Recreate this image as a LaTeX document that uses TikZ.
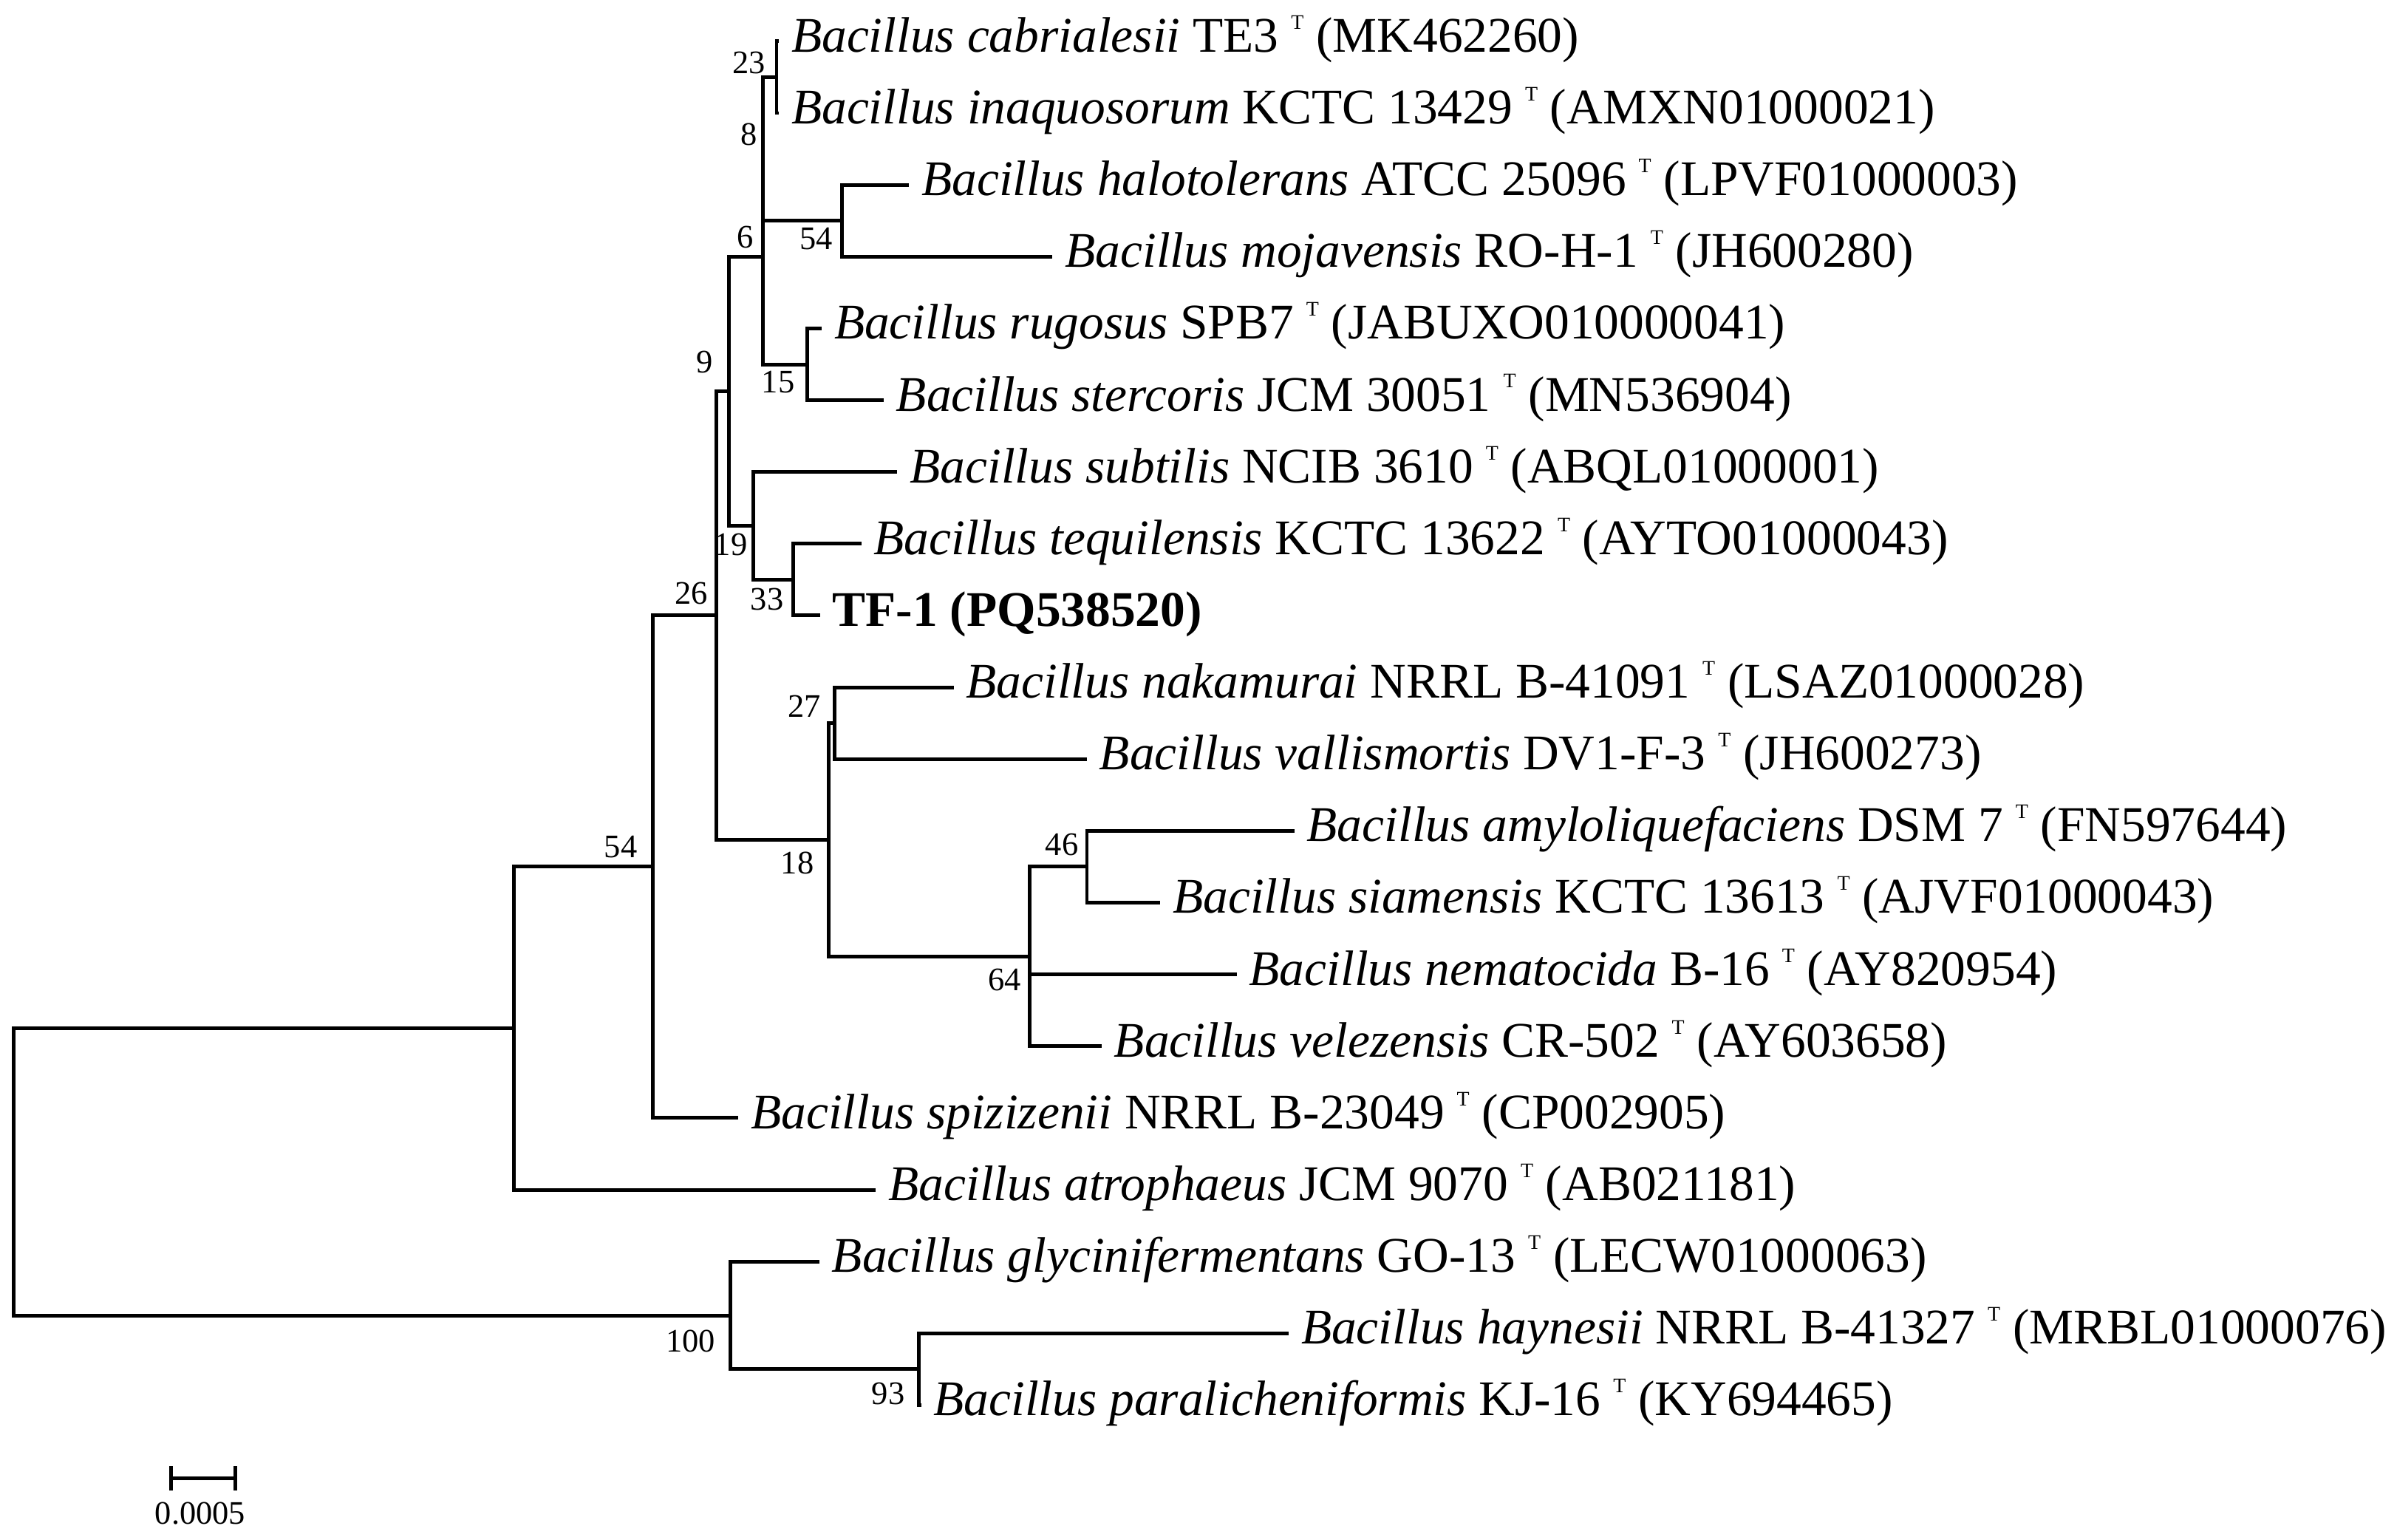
\documentclass[tikz,border=0pt]{standalone}
\usepackage{fontspec}
\setmainfont{Liberation Serif}
\usepackage{tikz}
\usetikzlibrary{positioning,calc}
\newcommand{\tsup}{\raisebox{15pt}{\fontsize{13.5}{13.5}\selectfont T}}

\begin{document}
\begin{tikzpicture}[x=1pt,y=-1pt,
  leaf/.style={anchor=west,inner xsep=8pt,inner ysep=0pt,
               font=\fontsize{32.6}{38}\selectfont,text height=22.8pt,text depth=8.8pt},
  bs/.style={anchor=east,inner sep=0pt,font=\fontsize{21.5}{24}\selectfont},
  br/.style={line width=2.4pt,draw=black}]

  \useasboundingbox (0,0) rectangle (1568,1007);

  \coordinate (root) at (9,766.5);
  \coordinate (nA)   at (336,672.6);
  \coordinate (n54b) at (427,566.9);
  \coordinate (n26)  at (468.5,402.6);
  \coordinate (n9)   at (477,255.9);
  \coordinate (n6)   at (499,167.85);
  \coordinate (n8)   at (499,97.4);
  \coordinate (n23)  at (508,50.5);
  \coordinate (n54a) at (550.6,144.4);
  \coordinate (n15)  at (528,238.3);
  \coordinate (n19)  at (493,343.9);
  \coordinate (n33)  at (518.8,379.1);
  \coordinate (n18)  at (542.2,549.3);
  \coordinate (n27)  at (546,473);
  \coordinate (n64)  at (673.6,625.6);
  \coordinate (n46)  at (711,566.9);
  \coordinate (n100) at (477.7,860.4);
  \coordinate (n93)  at (601,895.6);

  \node[leaf] (cab)  at (509.5,27)    {\textit{Bacillus cabrialesii} TE3 \tsup{} (MK462260)};
  \node[leaf] (inaq) at (509.5,73.95) {\textit{Bacillus inaquosorum} KCTC 13429 \tsup{} (AMXN01000021)};
  \node[leaf] (halo) at (594.6,120.9) {\textit{Bacillus halotolerans} ATCC 25096 \tsup{} (LPVF01000003)};
  \node[leaf] (moj)  at (688.5,167.85) {\textit{Bacillus mojavensis} RO-H-1 \tsup{} (JH600280)};
  \node[leaf] (rug)  at (537.5,214.8) {\textit{Bacillus rugosus} SPB7 \tsup{} (JABUXO010000041)};
  \node[leaf] (ster) at (578,261.75)  {\textit{Bacillus stercoris} JCM 30051 \tsup{} (MN536904)};
  \node[leaf] (subt) at (587,308.7)   {\textit{Bacillus subtilis} NCIB 3610 \tsup{} (ABQL01000001)};
  \node[leaf] (teq)  at (563.4,355.65) {\textit{Bacillus tequilensis} KCTC 13622 \tsup{} (AYTO01000043)};
  \node[leaf] (tf)   at (536.4,402.6) {\textbf{TF-1 (PQ538520)}};
  \node[leaf] (nak)  at (623.8,449.55) {\textit{Bacillus nakamurai} NRRL B-41091 \tsup{} (LSAZ01000028)};
  \node[leaf] (vall) at (711,496.5)   {\textit{Bacillus vallismortis} DV1-F-3 \tsup{} (JH600273)};
  \node[leaf] (amy)  at (846.7,543.45) {\textit{Bacillus amyloliquefaciens} DSM 7 \tsup{} (FN597644)};
  \node[leaf] (siam) at (759,590.4)   {\textit{Bacillus siamensis} KCTC 13613 \tsup{} (AJVF01000043)};
  \node[leaf] (nema) at (809,637.35)  {\textit{Bacillus nematocida} B-16 \tsup{} (AY820954)};
  \node[leaf] (vele) at (720.6,684.3) {\textit{Bacillus velezensis} CR-502 \tsup{} (AY603658)};
  \node[leaf] (spiz) at (483,731.25)  {\textit{Bacillus spizizenii} NRRL B-23049 \tsup{} (CP002905)};
  \node[leaf] (atro) at (573,778.2)   {\textit{Bacillus atrophaeus} JCM 9070 \tsup{} (AB021181)};
  \node[leaf] (glyc) at (536,825.15)  {\textit{Bacillus glycinifermentans} GO-13 \tsup{} (LECW01000063)};
  \node[leaf] (hay)  at (843,872.1)   {\textit{Bacillus haynesii} NRRL B-41327 \tsup{} (MRBL01000076)};
  \node[leaf] (para) at (602.5,919.05) {\textit{Bacillus paralicheniformis} KJ-16 \tsup{} (KY694465)};

  \draw[br] (root) |- (nA);  \draw[br] (root) |- (n100);
  \draw[br] (nA) |- (n54b);  \draw[br] (nA) |- (atro.west);
  \draw[br] (n54b) |- (n26); \draw[br] (n54b) |- (spiz.west);
  \draw[br] (n26) |- (n9);   \draw[br] (n26) |- (n18);
  \draw[br] (n9) |- (n6);    \draw[br] (n9) |- (n19);
  \draw[br] (n6) |- (n8);    \draw[br] (n6) |- (n15);
  \draw[br] (n8) |- (n23);   \draw[br] (n8) |- (n54a);
  \draw[br] (n23) |- (cab.west);  \draw[br] (n23) |- (inaq.west);
  \draw[br] (n54a) |- (halo.west); \draw[br] (n54a) |- (moj.west);
  \draw[br] (n15) |- (rug.west);  \draw[br] (n15) |- (ster.west);
  \draw[br] (n19) |- (subt.west); \draw[br] (n19) |- (n33);
  \draw[br] (n33) |- (teq.west);  \draw[br] (n33) |- (tf.west);
  \draw[br] (n18) |- (n27);  \draw[br] (n18) |- (n64);
  \draw[br] (n27) |- (nak.west);  \draw[br] (n27) |- (vall.west);
  \draw[br] (n64) |- (n46);  \draw[br] (n64) |- (nema.west); \draw[br] (n64) |- (vele.west);
  \draw[br] (n46) |- (amy.west);  \draw[br] (n46) |- (siam.west);
  \draw[br] (n100) |- (glyc.west); \draw[br] (n100) |- (n93);
  \draw[br] (n93) |- (hay.west);  \draw[br] (n93) |- (para.west);

  \node[bs] (b23)  at (501,41)     {23};
  \node[bs] (b8)   at (495.5,88)   {8};
  \node[bs] (b54a) at (545,156)    {54};
  \node[bs] (b6)   at (493,155)    {6};
  \node[bs] (b15)  at (520,250)    {15};
  \node[bs] (b9)   at (466.5,237)  {9};
  \node[bs] (b19)  at (489,356)    {19};
  \node[bs] (b33)  at (512.7,392)  {33};
  \node[bs] (b26)  at (463,388)    {26};
  \node[bs] (b27)  at (537.3,462)  {27};
  \node[bs] (b18)  at (532.5,564.5) {18};
  \node[bs] (b46)  at (705.6,552.5) {46};
  \node[bs] (b64)  at (668,641)    {64};
  \node[bs] (b54b) at (417,554)    {54};
  \node[bs] (b100) at (468,877)    {100};
  \node[bs] (b93)  at (592,911.5)  {93};

  \coordinate (s1) at (112,967);
  \coordinate (s2) at (154,967);
  \draw[br] (s1) -- (s2);
  \draw[br] ($(s1)+(0,-8)$) -- ($(s1)+(0,8)$);
  \draw[br] ($(s2)+(0,-8)$) -- ($(s2)+(0,8)$);
  \node[bs,anchor=center] (sbl) at ($(s1)!0.5!(s2)+(-2,23)$) {0.0005};
\end{tikzpicture}
\end{document}
